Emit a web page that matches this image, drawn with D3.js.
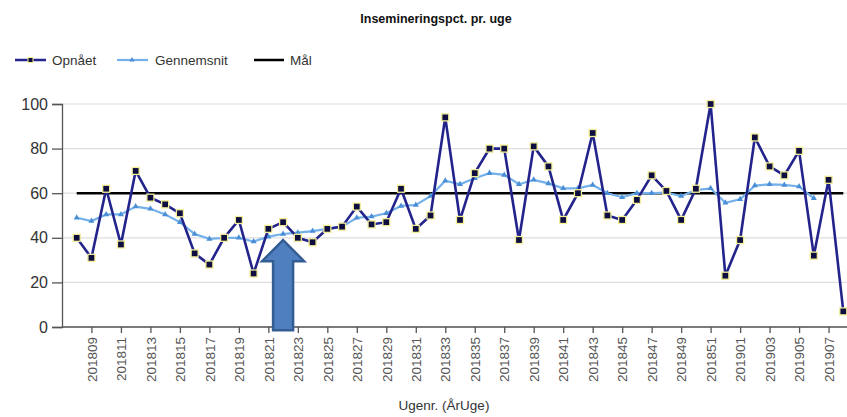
<!DOCTYPE html>
<html>
<head>
<meta charset="utf-8">
<script src="https://cdn.jsdelivr.net/npm/d3@7"></script>
<style>
  body { margin: 0; background: #fff; }
  svg { font-family: "Liberation Sans", Arial, sans-serif; }
</style>
</head>
<body>
<div id="chart"></div>
<script>
// weeks (AarUge)
var weeks = ["201808","201809","201810","201811","201812","201813","201814","201815","201816","201817",
  "201818","201819","201820","201821","201822","201823","201824","201825","201826","201827",
  "201828","201829","201830","201831","201832","201833","201834","201835","201836","201837",
  "201838","201839","201840","201841","201842","201843","201844","201845","201846","201847",
  "201848","201849","201850","201851","201852","201901","201902","201903","201904","201905",
  "201906","201907","201908"];

var tickWeeks = ["201809","201811","201813","201815","201817","201819","201821","201823","201825",
  "201827","201829","201831","201833","201835","201837","201839","201841","201843","201845",
  "201847","201849","201851","201901","201903","201905","201907"];

var opnaaet = [40,31,62,37,70,58,55,51,33,28,40,48,24,44,47,40,38,44,45,54,
  46,47,62,44,50,94,48,69,80,80,39,81,72,48,60,87,50,48,57,68,
  61,48,62,100,23,39,85,72,68,79,32,66,7];

var gennemsnit = [49,47.5,50.5,50.5,54,53,50.5,47,41.7,39.5,40,40,38.3,40.5,41.7,42.3,43,44,45,49,
  49.5,51,54.3,54.7,58.7,65.6,64,66.7,69,68.2,64,66,64.4,62.2,62.2,63.7,60,58.2,60,60,
  60.3,58.7,61.4,62.2,55.7,57.3,63.4,64,63.7,63,57.7];

var maal = 60;
var arrowWeek = "201822";

var W = 847, H = 417;
var svg = d3.select("#chart").append("svg")
    .attr("width", W)
    .attr("height", H);

var x = d3.scalePoint()
    .domain(weeks)
    .range([76.7, 843.3]);

var y = d3.scaleLinear()
    .domain([0, 100])
    .range([327, 104]);

var x0 = 62, x1 = 847;

// gridlines
svg.append("g")
  .selectAll("line")
  .data(y.ticks(5))
  .enter().append("line")
    .attr("x1", x0).attr("x2", x1)
    .attr("y1", function(d) { return y(d); })
    .attr("y2", function(d) { return y(d); })
    .attr("stroke", "#dedede")
    .attr("stroke-width", 1.2);

// y axis
var yAxis = svg.append("g")
    .attr("transform", "translate(" + x0 + ",0)")
    .call(d3.axisLeft(y).ticks(5).tickSize(10).tickPadding(4));
yAxis.select(".domain").attr("stroke", "#555").attr("stroke-width", 1.3);
yAxis.selectAll(".tick line").attr("stroke", "#555").attr("stroke-width", 1.3);
yAxis.selectAll("text")
    .attr("fill", "#333")
    .style("font-size", "16px")
    .style("font-family", "Liberation Sans, Arial, sans-serif");

// x axis
svg.append("line")
    .attr("x1", x0).attr("x2", x1)
    .attr("y1", y(0)).attr("y2", y(0))
    .attr("stroke", "#555").attr("stroke-width", 1.3);

var xAxis = svg.append("g")
    .attr("transform", "translate(0," + y(0) + ")")
    .call(d3.axisBottom(x).tickValues(tickWeeks).tickSize(6).tickSizeOuter(0));
xAxis.select(".domain").remove();
xAxis.selectAll(".tick line").attr("stroke", "#555").attr("stroke-width", 1.3);
xAxis.selectAll("text")
    .attr("fill", "#555")
    .style("font-size", "13.5px")
    .style("font-family", "Liberation Sans, Arial, sans-serif")
    .attr("text-anchor", "end")
    .attr("transform", "rotate(-90)")
    .attr("x", -10)
    .attr("y", 0)
    .attr("dy", "0.35em");

// goal line
svg.append("line")
    .attr("x1", x(weeks[0])).attr("x2", x(weeks[weeks.length - 1]))
    .attr("y1", y(maal)).attr("y2", y(maal))
    .attr("stroke", "#000").attr("stroke-width", 2.5);

// gennemsnit
var lineG = d3.line()
    .x(function(d, i) { return x(weeks[i]); })
    .y(function(d) { return y(d); });

svg.append("path")
    .datum(gennemsnit)
    .attr("fill", "none")
    .attr("stroke", "#74b0ea")
    .attr("stroke-width", 2.2)
    .attr("d", lineG);

svg.append("g")
  .selectAll("path")
  .data(gennemsnit)
  .enter().append("path")
    .attr("d", d3.symbol().type(d3.symbolTriangle).size(16))
    .attr("transform", function(d, i) { return "translate(" + x(weeks[i]) + "," + y(d) + ")"; })
    .attr("fill", "#4a8fd6");

// opnaaet
svg.append("path")
    .datum(opnaaet)
    .attr("fill", "none")
    .attr("stroke", "#23238c")
    .attr("stroke-width", 2.6)
    .attr("d", lineG);

svg.append("g")
  .selectAll("rect")
  .data(opnaaet)
  .enter().append("rect")
    .attr("x", function(d, i) { return x(weeks[i]) - 3.5; })
    .attr("y", function(d) { return y(d) - 3.5; })
    .attr("width", 7).attr("height", 7)
    .attr("fill", "#0d0d40")
    .attr("stroke", "#f2ee95")
    .attr("stroke-width", 1.3);

// arrow annotation
var ax = x(arrowWeek), aTop = y(39), aNeck = y(29.5), aBot = y(-1.5);
svg.append("path")
    .attr("d", "M" + ax + "," + aTop +
               "L" + (ax + 21) + "," + aNeck +
               "L" + (ax + 10) + "," + aNeck +
               "L" + (ax + 10) + "," + aBot +
               "L" + (ax - 10) + "," + aBot +
               "L" + (ax - 10) + "," + aNeck +
               "L" + (ax - 21) + "," + aNeck + "Z")
    .attr("fill", "#4f7fbf")
    .attr("stroke", "#345d93")
    .attr("stroke-width", 2.5)
    .attr("stroke-linejoin", "miter");

// title
svg.append("text")
    .attr("x", 436).attr("y", 23)
    .attr("text-anchor", "middle")
    .style("font-size", "12.5px")
    .style("font-weight", "bold")
    .attr("fill", "#111")
    .text("Insemineringspct. pr. uge");

// axis title
svg.append("text")
    .attr("x", 444).attr("y", 410)
    .attr("text-anchor", "middle")
    .style("font-size", "13.5px")
    .attr("fill", "#333")
    .text("Ugenr. (ÅrUge)");

// legend
var leg = svg.append("g").attr("transform", "translate(0,60)");
leg.append("line").attr("x1", 15).attr("x2", 46).attr("y1", 0).attr("y2", 0)
    .attr("stroke", "#23238c").attr("stroke-width", 2.5);
leg.append("rect").attr("x", 28).attr("y", -2.5).attr("width", 5).attr("height", 5)
    .attr("fill", "#0d0d40").attr("stroke", "#f4f08a").attr("stroke-width", 1);
leg.append("text").attr("x", 52).attr("y", 5).style("font-size", "13.5px").attr("fill", "#333").text("Opnået");

leg.append("line").attr("x1", 117).attr("x2", 148).attr("y1", 0).attr("y2", 0)
    .attr("stroke", "#74b0ea").attr("stroke-width", 2.2);
leg.append("path").attr("d", d3.symbol().type(d3.symbolTriangle).size(12))
    .attr("transform", "translate(132,0)").attr("fill", "#4a8fd6");
leg.append("text").attr("x", 155).attr("y", 5).style("font-size", "13.5px").attr("fill", "#333").text("Gennemsnit");

leg.append("line").attr("x1", 254).attr("x2", 284).attr("y1", 0).attr("y2", 0)
    .attr("stroke", "#000").attr("stroke-width", 2.5);
leg.append("text").attr("x", 290).attr("y", 5).style("font-size", "13.5px").attr("fill", "#333").text("Mål");
</script>
</body>
</html>
